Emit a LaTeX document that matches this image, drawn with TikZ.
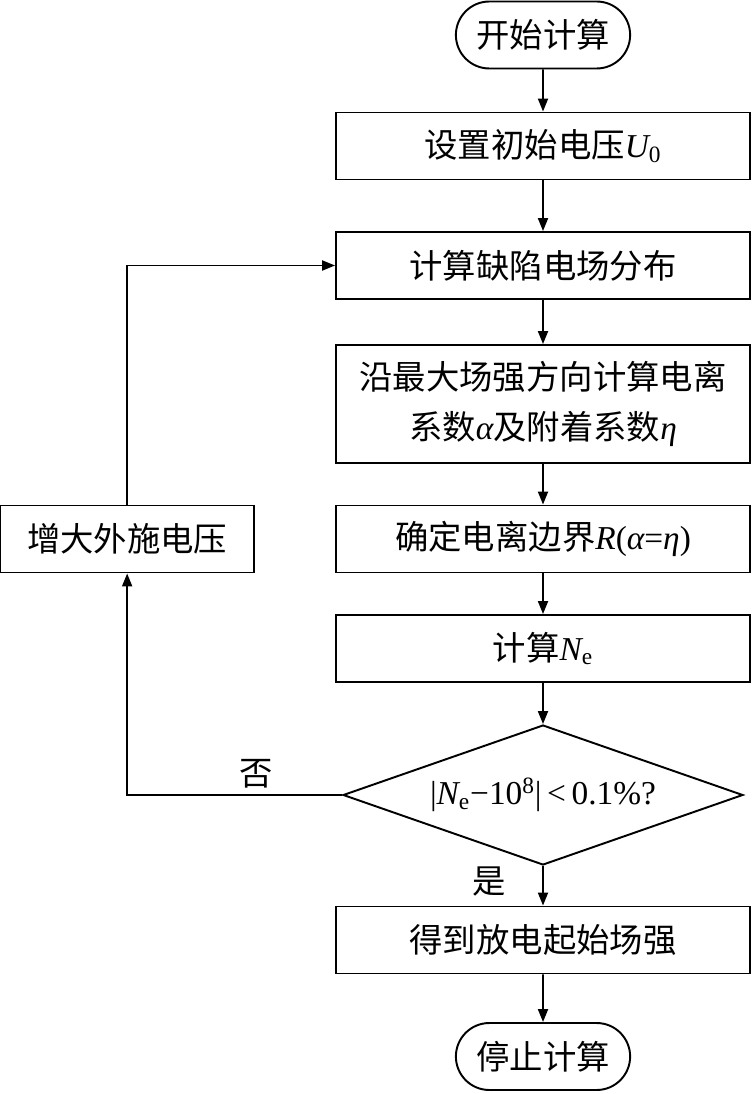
\documentclass[tikz,border=0pt]{standalone}
\usepackage{fontspec}
\setmainfont{Liberation Serif}
\newfontfamily\cjk{Noto Sans CJK SC}
\usetikzlibrary{arrows.meta,positioning,shapes.geometric,shapes.misc}
\newcommand{\iv}[1]{{\rmfamily\itshape #1}}
\newcommand{\lsub}[1]{\textsubscript{\rmfamily #1}}

\begin{document}
\begin{tikzpicture}[x=0.02cm,y=-0.02cm,>={Triangle[length=2.6mm,width=2mm]},line width=1.1pt,
  every node/.append style={font=\cjk\fontsize{19}{28}\selectfont},
  b/.style={draw,rectangle,minimum width=8.28cm,minimum height=1.34cm,inner sep=2pt,align=center},
  t/.style={draw,rounded rectangle,minimum width=3.72cm,minimum height=1.34cm},
  d/.style={draw,diamond,aspect=2.86,minimum width=8cm,minimum height=2.8cm,inner sep=0pt}]
\useasboundingbox (0,0) rectangle (755,1094);
\node[t] (st) at (543,35) {开始计算};
\node[b] (r1) at (543,146) {设置初始电压\iv{U}\lsub{0}};
\node[b] (r2) at (543,265.5) {计算缺陷电场分布};
\node[b,minimum height=2.36cm] (r3) at (543,404) {沿最大场强方向计算电离\\系数\iv{α}及附着系数\iv{η}};
\node[b] (r4) at (543,539) {确定电离边界\iv{R}{\rmfamily(}\iv{α}{\rmfamily=}\iv{η}{\rmfamily)}};
\node[b] (r5) at (543,648.5) {计算\iv{N}\lsub{e}};
\node[d] (dec) at (543,795) {{\rmfamily |\iv{N}\lsub{e}−10\textsuperscript{8}|\,<\,0.1\%?}};
\node[b] (r6) at (543,940) {得到放电起始场强};
\node[t] (end) at (543,1056.5) {停止计算};
\node[b,minimum width=5.08cm,left=1.6cm of r4] (inc) {增大外施电压};
% main flow
\draw[->] (st) -- (r1);
\draw[->] (r1) -- (r2);
\draw[->] (r2) -- (r3);
\draw[->] (r3) -- (r4);
\draw[->] (r4) -- (r5);
\draw[->] (r5) -- (dec);
\draw[->] (dec) -- node[left,pos=0.4,xshift=-0.6cm]{是} (r6);
\draw[->] (r6) -- (end);
% loop back
\draw[->] (dec.west) -| node[above,pos=0.2]{否} (inc.south);
\draw[->] (inc.north) |- (r2.west);
\end{tikzpicture}
\end{document}
